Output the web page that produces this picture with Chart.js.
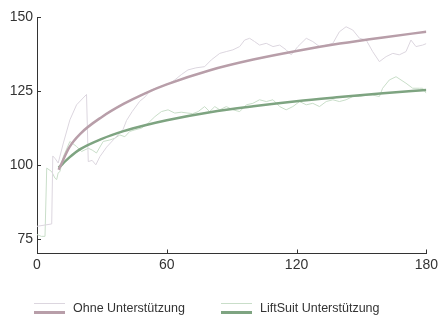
<!DOCTYPE html>
<html>
<head>
<meta charset="utf-8">
<script src="https://cdn.jsdelivr.net/npm/chart.js@4/dist/chart.umd.min.js"></script>
<style>
  body { margin: 0; background: #fff; }
  #wrap { position: relative; width: 441px; height: 324px; }
  .legend { position: absolute; top: 298px; font: 12.5px "Liberation Sans", Arial, sans-serif; color: #333; }
  .legend .sw { position: absolute; left: 0; width: 31px; }
  .legend .thin { top: 5px; height: 1px; }
  .legend .thick { top: 13px; height: 3px; }
  .legend span.txt { position: absolute; left: 39px; top: 3px; white-space: nowrap; }
</style>
</head>
<body>
<div id="wrap">
  <canvas id="chart" width="441" height="324"></canvas>
  <div class="legend" style="left:34px">
    <div class="sw thin" style="background:#dcd6df"></div>
    <div class="sw thick" style="background:#b89ea9"></div>
    <span class="txt">Ohne Unterstützung</span>
  </div>
  <div class="legend" style="left:221px">
    <div class="sw thin" style="background:#c9dec9"></div>
    <div class="sw thick" style="background:#7ea481"></div>
    <span class="txt">LiftSuit Unterstützung</span>
  </div>
</div>
<script>
// Achsen
const xTicks = [0, 60, 120, 180];
const yTicks = [75, 100, 125, 150];

// Rohdaten ohne Unterstützung
const ohneX = [0, 6.8, 7.3, 8.5, 9.8, 12.2, 15.2, 18.3, 22.9, 23.7, 25.5, 27.2, 29.1, 32.2, 36, 39.8, 41.4, 44, 47.5, 50, 52.5, 57.5, 60.5, 63.7, 66.7, 69.8, 73.5, 77.5, 80.6, 84.5, 87.5, 90.6, 93.7, 96, 98.3, 100.6, 102.9, 106, 109.1, 112.2, 115.2, 117.5, 120.6, 124.5, 127.5, 130.6, 133.7, 136.8, 139.8, 142.9, 146, 149.1, 152.2, 155.2, 158.3, 161.4, 164.5, 167.5, 170.6, 172.9, 175.2, 178.3, 180];
const ohneY = [79.2, 80, 103, 102, 100.6, 107.4, 115.2, 120.3, 123.8, 101.1, 101.5, 100, 102.8, 106, 109, 112, 115, 118, 121.5, 123, 125.3, 126.5, 127.2, 128.7, 130.5, 132.1, 132.8, 133.2, 135.5, 137.7, 138.3, 138.9, 140, 142.2, 142.8, 141.7, 140.5, 141.1, 140, 140.5, 138.9, 137.2, 140, 142.8, 141.7, 140, 140.5, 141.1, 145, 146.7, 145.6, 142.8, 142.2, 138.3, 134.9, 136.6, 137.7, 137.2, 138.3, 142.2, 140, 140.5, 141];

// Rohdaten LiftSuit
const liftX = [0, 2, 3.7, 4.5, 6.8, 8.3, 9.1, 9.8, 10.6, 12.2, 15.2, 18.3, 20.6, 23.7, 25.5, 27.5, 30.6, 33.7, 36, 38.3, 40.6, 42.9, 45.2, 48.3, 51.4, 54.5, 57.5, 60.6, 63.7, 66.7, 69.8, 72, 74.5, 77.5, 79.8, 82.2, 84.5, 87.5, 90.6, 93.7, 96.8, 99.8, 102.9, 106, 109.1, 112.2, 115.2, 118.3, 121.4, 124.5, 127.5, 130.6, 133.7, 136.8, 139.8, 142.9, 146, 149.1, 152.2, 155.2, 158.3, 159.8, 162.9, 166, 168.3, 170.6, 173.7, 176.8, 178.3, 180];
const liftY = [76.4, 75.8, 75.8, 98.9, 97.7, 95.5, 95, 97.3, 97.7, 102.8, 107.9, 106.2, 104.5, 105.6, 105, 104, 107.9, 108.4, 109, 110.1, 109.5, 111.3, 111.8, 112.4, 114.1, 116.3, 118, 118.6, 117.5, 117.8, 117.5, 117.3, 118, 119.7, 118, 119.7, 118.6, 119.7, 118.6, 118, 120.3, 120.8, 122, 121.4, 122, 119.7, 118.6, 119.7, 121.4, 120.3, 120.8, 119.7, 121.4, 122, 121.4, 122, 123.1, 123.1, 123.6, 123.6, 123.1, 125.9, 128.7, 129.8, 128.7, 127.6, 125.9, 125.9, 125.9, 124.2];

// Trendkurven
const fitX = [10, 15, 20, 30, 40, 50, 60, 80, 100, 120, 140, 160, 180];
const ohneFit = [98.3, 106, 110.5, 116.2, 120.6, 124.2, 127.2, 132, 135.6, 138.5, 141, 143.1, 145];
const liftFit = [99, 102.5, 105.3, 108.8, 111.4, 113.4, 115.1, 117.8, 119.8, 121.5, 122.9, 124.2, 125.3];

const pts = (xs, ys) => xs.map((x, i) => ({ x: x, y: ys[i] }));

const innerTicks = {
  id: 'innerTicks',
  afterDraw(chart) {
    const { ctx, chartArea, scales: { x, y } } = chart;
    ctx.save();
    ctx.strokeStyle = '#333';
    ctx.lineWidth = 1;
    ctx.beginPath();
    x.ticks.forEach(t => {
      const px = Math.round(x.getPixelForValue(t.value)) + 0.5;
      ctx.moveTo(px, chartArea.bottom);
      ctx.lineTo(px, chartArea.bottom - 4);
    });
    y.ticks.forEach(t => {
      const py = Math.round(y.getPixelForValue(t.value)) + 0.5;
      ctx.moveTo(chartArea.left, py);
      ctx.lineTo(chartArea.left + 4, py);
    });
    ctx.stroke();
    ctx.restore();
  }
};

new Chart(document.getElementById('chart'), {
  type: 'line',
  data: {
    datasets: [
      {
        label: 'Ohne Unterstützung',
        data: pts(fitX, ohneFit),
        borderColor: '#b89ea9',
        borderWidth: 2.5,
        cubicInterpolationMode: 'monotone'
      },
      {
        label: 'LiftSuit Unterstützung',
        data: pts(fitX, liftFit),
        borderColor: '#7ea481',
        borderWidth: 2.5,
        cubicInterpolationMode: 'monotone'
      },
      {
        label: 'Ohne Unterstützung (Rohdaten)',
        data: pts(ohneX, ohneY),
        borderColor: '#dcd6df',
        borderWidth: 1
      },
      {
        label: 'LiftSuit Unterstützung (Rohdaten)',
        data: pts(liftX, liftY),
        borderColor: '#c9dec9',
        borderWidth: 1
      }
    ]
  },
  options: {
    responsive: false,
    animation: false,
    elements: { point: { radius: 0 }, line: { tension: 0 } },
    layout: { padding: { left: 0, top: 17, right: 14, bottom: 46.5 } },
    plugins: { legend: { display: false }, tooltip: { enabled: false } },
    scales: {
      x: {
        type: 'linear',
        min: 0,
        max: 180,
        afterBuildTicks: s => { s.ticks = xTicks.map(v => ({ value: v })); },
        afterFit: s => { s.height = 24; },
        grid: { display: false, drawTicks: false },
        border: { display: true, color: '#333', width: 1 },
        ticks: { color: '#333', padding: 3, font: { family: 'Liberation Sans', size: 14 } }
      },
      y: {
        min: 70,
        max: 150,
        afterBuildTicks: s => { s.ticks = yTicks.map(v => ({ value: v })); },
        afterFit: s => { s.width = 37; },
        grid: { display: false, drawTicks: false },
        border: { display: true, color: '#333', width: 1 },
        ticks: { color: '#333', padding: 4, font: { family: 'Liberation Sans', size: 14 } }
      }
    }
  },
  plugins: [innerTicks]
});
</script>
</body>
</html>
